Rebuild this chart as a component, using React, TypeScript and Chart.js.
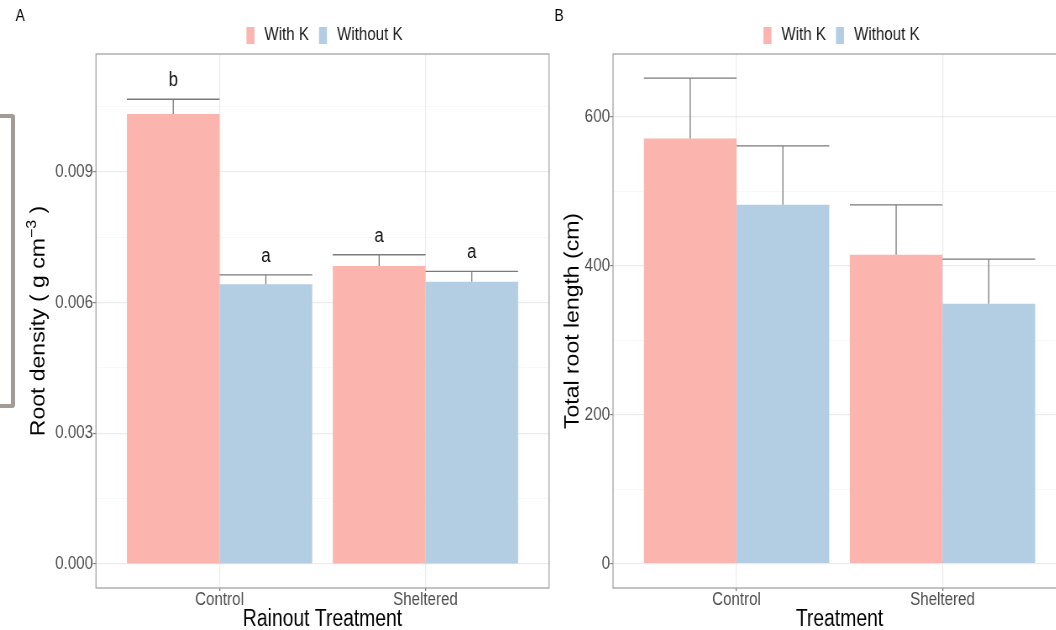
import React, { useEffect, useRef } from "react";
import { Chart, registerables } from "chart.js";

Chart.register(...registerables);

// ---------- data ----------
const categories = ["Control", "Sheltered"];
const categoryPositions = [1, 2];
const seriesNames = ["With K", "Without K"];
const seriesColors = ["#FBB4AE", "#B3CDE3"];

// Panel A: root density (g cm^-3)
const densityWithK = [0.01033, 0.00684];
const densityWithKSe = [0.00034, 0.00026];
const densityWithoutK = [0.00642, 0.00648];
const densityWithoutKSe = [0.00022, 0.00024];
const densityLettersWithK = ["b", "a"];
const densityLettersWithoutK = ["a", "a"];
const densityTicks = [0, 0.003, 0.006, 0.009];
const densityTickLabels = ["0.000", "0.003", "0.006", "0.009"];
const densityMinorTicks = [0.0015, 0.0045, 0.0075, 0.0105];

// Panel B: total root length (cm)
const lengthWithK = [571, 415];
const lengthWithKSe = [81, 67];
const lengthWithoutK = [482, 349];
const lengthWithoutKSe = [79, 60];
const lengthTicks = [0, 200, 400, 600];
const lengthTickLabels = ["0", "200", "400", "600"];
const lengthMinorTicks = [100, 300, 500];

// ---------- layout / style ----------
const S = 0.84; // horizontal compression of the reference picture
const H = 640;
const PLOT_TOP = 54;
const PLOT_BOTTOM = 588;
const FONT = "'Liberation Sans', Arial, Helvetica, sans-serif";
const TICK_COLOR = "#4d4d4d";
const TICK_MARK = "#7f7f7f";
const GRID_MAJOR = "rgba(0,0,0,0.075)";
const GRID_MINOR = "rgba(0,0,0,0.04)";
const BORDER = "#9c9c9c";
const ERR_COLOR = "#7a7a7a";

type TitlePart = { text: string; sup?: boolean };

type Panel = {
  left: number;
  width: number;
  plotLeft: number;
  plotRight: number;
  yTitleX: number;
  yMin: number;
  yMax: number;
  ticks: number[];
  tickLabels: string[];
  minor: number[];
  withK: number[];
  withKSe: number[];
  withoutK: number[];
  withoutKSe: number[];
  letters: string[][] | null;
  yTitle: TitlePart[];
  xTitle: string;
  label: string;
  labelX: number;
};

const panelA: Panel = {
  left: 0,
  width: 550,
  plotLeft: 96,
  plotRight: 549,
  yTitleX: 39,
  yMin: -0.000551,
  yMax: 0.011709,
  ticks: densityTicks,
  tickLabels: densityTickLabels,
  minor: densityMinorTicks,
  withK: densityWithK,
  withKSe: densityWithKSe,
  withoutK: densityWithoutK,
  withoutKSe: densityWithoutKSe,
  letters: [densityLettersWithK, densityLettersWithoutK],
  yTitle: [{ text: "Root density ( g cm" }, { text: "\u22123", sup: true }, { text: " )" }],
  xTitle: "Rainout Treatment",
  label: "A",
  labelX: 15.5,
};

const panelB: Panel = {
  left: 550,
  width: 520,
  plotLeft: 613,
  plotRight: 1066,
  yTitleX: 573,
  yMin: -32.6,
  yMax: 684.5,
  ticks: lengthTicks,
  tickLabels: lengthTickLabels,
  minor: lengthMinorTicks,
  withK: lengthWithK,
  withKSe: lengthWithKSe,
  withoutK: lengthWithoutK,
  withoutKSe: lengthWithoutKSe,
  letters: null,
  yTitle: [{ text: "Total root length (cm)" }],
  xTitle: "Treatment",
  label: "B",
  labelX: 554.5,
};

function canvasWidth(p: Panel) {
  return Math.round(p.width / S);
}

function buildChart(canvas: HTMLCanvasElement, p: Panel) {
  const cw = canvasWidth(p);
  const plotLeftPre = (p.plotLeft - p.left) / S;
  const plotRightPre = (p.plotRight - p.left) / S;
  const isMajor = (v: number) => p.ticks.some((t) => Math.abs(t - v) < 1e-12);

  const overlay = {
    id: "overlay",
    afterDatasetsDraw(chart: any) {
      const ctx = chart.ctx;
      const yScale = chart.scales.y;
      const means = [p.withK, p.withoutK];
      const ses = [p.withKSe, p.withoutKSe];
      ctx.save();
      ctx.strokeStyle = ERR_COLOR;
      ctx.lineWidth = 1.3;
      for (let di = 0; di < 2; di++) {
        const meta = chart.getDatasetMeta(di);
        meta.data.forEach((bar: any, j: number) => {
          const { x, width } = bar.getProps(["x", "width"], true);
          const yb = yScale.getPixelForValue(means[di][j]);
          const yt = yScale.getPixelForValue(means[di][j] + ses[di][j]);
          ctx.beginPath();
          ctx.moveTo(x, yb);
          ctx.lineTo(x, yt);
          ctx.moveTo(x - width / 2, yt);
          ctx.lineTo(x + width / 2, yt);
          ctx.stroke();
          if (p.letters) {
            ctx.fillStyle = "#111";
            ctx.font = `20px ${FONT}`;
            ctx.textAlign = "center";
            ctx.textBaseline = "alphabetic";
            ctx.fillText(p.letters[di][j], x, yt - 13);
          }
        });
      }
      ctx.restore();
    },
    afterDraw(chart: any) {
      const ctx = chart.ctx;
      const a = chart.chartArea;
      ctx.save();
      // panel border
      ctx.strokeStyle = BORDER;
      ctx.lineWidth = 1.2;
      ctx.strokeRect(a.left, a.top, a.right - a.left, a.bottom - a.top);

      // y-axis title (rotated, with optional superscript)
      ctx.save();
      ctx.translate((p.yTitleX - p.left) / S, (a.top + a.bottom) / 2);
      ctx.rotate(-Math.PI / 2);
      ctx.fillStyle = "#000";
      ctx.textBaseline = "middle";
      ctx.textAlign = "left";
      const fontFor = (part: TitlePart) => (part.sup ? `16px ${FONT}` : `23px ${FONT}`);
      const partWidths = p.yTitle.map((part) => {
        ctx.font = fontFor(part);
        return ctx.measureText(part.text).width;
      });
      let tx = -partWidths.reduce((s, w) => s + w, 0) / 2;
      p.yTitle.forEach((part, i) => {
        ctx.font = fontFor(part);
        ctx.fillText(part.text, tx, part.sup ? -8 : 0);
        tx += partWidths[i];
      });
      ctx.restore();

      // legend
      ctx.font = `18px ${FONT}`;
      ctx.textBaseline = "middle";
      ctx.textAlign = "left";
      const boxW = 8 / S;
      const boxH = 17;
      const gapBT = 10 / S;
      const gapTB = 10 / S;
      const widths = seriesNames.map((n) => ctx.measureText(n).width);
      const total = boxW * 2 + gapBT * 2 + gapTB + widths[0] + widths[1];
      let x = (a.left + a.right) / 2 + 2 / S - total / 2;
      const ly = 35.5;
      seriesNames.forEach((n, i) => {
        ctx.fillStyle = seriesColors[i];
        ctx.fillRect(x, ly - boxH / 2, boxW, boxH);
        x += boxW + gapBT;
        ctx.fillStyle = "#1a1a1a";
        ctx.fillText(n, x, ly);
        x += widths[i] + gapTB;
      });
      // panel label
      ctx.font = `16.5px ${FONT}`;
      ctx.fillStyle = "#000";
      ctx.textBaseline = "alphabetic";
      ctx.fillText(p.label, (p.labelX - p.left) / S, 21);
      ctx.restore();
    },
  };

  return new Chart(canvas, {
    type: "bar",
    data: {
      datasets: [
        {
          label: seriesNames[0],
          data: categoryPositions.map((x, i) => ({ x, y: p.withK[i] })),
          backgroundColor: seriesColors[0],
          borderWidth: 0,
        },
        {
          label: seriesNames[1],
          data: categoryPositions.map((x, i) => ({ x, y: p.withoutK[i] })),
          backgroundColor: seriesColors[1],
          borderWidth: 0,
        },
      ],
    },
    options: {
      animation: false,
      responsive: false,
      devicePixelRatio: 1,
      events: [],
      font: { family: FONT },
      layout: {
        padding: { left: 0, top: PLOT_TOP, right: cw - plotRightPre, bottom: 0 },
      },
      datasets: { bar: { categoryPercentage: 0.9, barPercentage: 1 } },
      plugins: {
        legend: { display: false },
        tooltip: { enabled: false },
        title: { display: false },
      },
      scales: {
        x: {
          type: "linear",
          min: 0.4,
          max: 2.6,
          offset: false,
          afterBuildTicks: (s: any) => {
            s.ticks = categoryPositions.map((v) => ({ value: v }));
          },
          afterFit: (s: any) => {
            s.height = H - PLOT_BOTTOM;
          },
          ticks: {
            autoSkip: false,
            maxRotation: 0,
            minRotation: 0,
            padding: 0,
            color: TICK_COLOR,
            font: { size: 18, lineHeight: 1, family: FONT },
            callback: (v: any) => {
              const i = categoryPositions.indexOf(Number(v));
              return i >= 0 ? categories[i] : "";
            },
          },
          grid: {
            offset: false,
            color: GRID_MAJOR,
            lineWidth: 1.3,
            tickColor: TICK_MARK,
            tickLength: 3,
          },
          border: { display: false },
          title: {
            display: true,
            text: p.xTitle,
            color: "#000",
            font: { size: 23, lineHeight: 1, family: FONT },
            padding: { top: 0, bottom: 8.5 },
          },
        },
        y: {
          type: "linear",
          min: p.yMin,
          max: p.yMax,
          afterBuildTicks: (s: any) => {
            s.ticks = [...p.ticks, ...p.minor]
              .sort((a, b) => a - b)
              .map((v) => ({ value: v }));
          },
          afterFit: (s: any) => {
            s.width = plotLeftPre;
          },
          ticks: {
            autoSkip: false,
            padding: 0,
            color: TICK_COLOR,
            font: { size: 18, lineHeight: 1, family: FONT },
            callback: (v: any) => {
              const i = p.ticks.findIndex((t) => Math.abs(t - Number(v)) < 1e-12);
              return i >= 0 ? p.tickLabels[i] : "";
            },
          },
          grid: {
            color: (c: any) => (c.tick && !isMajor(c.tick.value) ? GRID_MINOR : GRID_MAJOR),
            lineWidth: (c: any) => (c.tick && !isMajor(c.tick.value) ? 0.8 : 1.2),
            tickColor: (c: any) =>
              c.tick && !isMajor(c.tick.value) ? "rgba(0,0,0,0)" : TICK_MARK,
            tickLength: 3.6,
          },
          border: { display: false },
          title: { display: false },
        },
      },
    } as any,
    plugins: [overlay as any],
  });
}

export default function App() {
  const refA = useRef<HTMLCanvasElement | null>(null);
  const refB = useRef<HTMLCanvasElement | null>(null);

  useEffect(() => {
    const charts: Chart[] = [];
    if (refA.current) charts.push(buildChart(refA.current, panelA));
    if (refB.current) charts.push(buildChart(refB.current, panelB));
    return () => charts.forEach((c) => c.destroy());
  }, []);

  const canvasStyle = (p: Panel): React.CSSProperties => ({
    position: "absolute",
    left: p.left,
    top: 0,
    width: canvasWidth(p),
    height: H,
    transform: `scaleX(${S})`,
    transformOrigin: "0 0",
  });

  return (
    <div
      style={{
        position: "fixed",
        left: 0,
        top: 0,
        width: 1056,
        height: 630,
        overflow: "hidden",
        background: "#fff",
      }}
    >
      <canvas ref={refA} width={canvasWidth(panelA)} height={H} style={canvasStyle(panelA)} />
      <canvas ref={refB} width={canvasWidth(panelB)} height={H} style={canvasStyle(panelB)} />
      <div
        style={{
          position: "absolute",
          left: -16,
          top: 114,
          width: 23,
          height: 286,
          border: "4px solid #a39c96",
          borderRadius: 3,
        }}
      />
    </div>
  );
}
